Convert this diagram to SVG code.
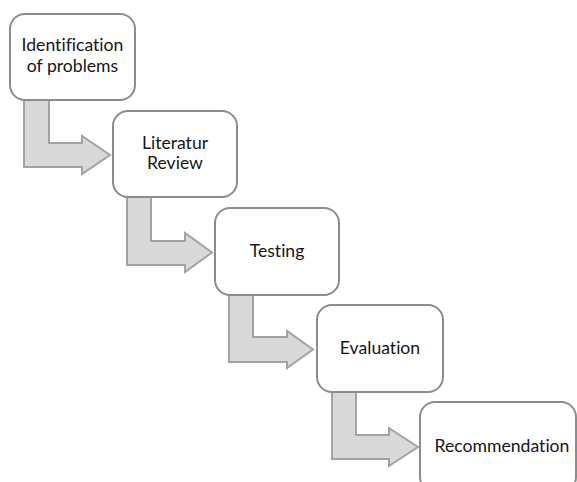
<svg xmlns="http://www.w3.org/2000/svg" width="577" height="482" viewBox="0 0 577 482">
  <style>
    .step { fill: #ffffff; stroke: #8c8c8c; stroke-width: 2; }
    .flow { fill: #d9d9d9; stroke: #a3a3a3; stroke-width: 2; stroke-linejoin: miter; }
    .label { font-family: Lato, "Liberation Sans", Arial, sans-serif; font-size: 17.6px; fill: #161616; text-anchor: middle; font-variant-ligatures: none; }
  </style>
  <rect width="577" height="482" fill="#ffffff"/>

  <!-- bent block arrows between the stages -->
  <g id="connectors">
    <polygon class="flow" points="24,96 49,96 49,143 82,143 82,136 110,155 82,174 82,167 24,167"/>
    <polygon class="flow" points="127,193 151,193 151,241 185,241 185,233 212,252.5 185,272 185,265 127,265"/>
    <polygon class="flow" points="229,290 253,290 253,337 287,337 287,331 313,349.5 287,368 287,362 229,362"/>
    <polygon class="flow" points="332,387 356,387 356,435 389,435 389,428 418,447 389,466 389,459 332,459"/>
  </g>

  <g id="identification">
    <rect class="step" x="10" y="14" width="125" height="86" rx="15"/>
    <text class="label" x="72.5" y="51">Identification</text>
    <text class="label" x="72.5" y="72">of problems</text>
  </g>

  <g id="literature">
    <rect class="step" x="113" y="111" width="124" height="86" rx="15"/>
    <text class="label" x="175" y="149">Literatur</text>
    <text class="label" x="175" y="169">Review</text>
  </g>

  <g id="testing">
    <rect class="step" x="215" y="208" width="124" height="87" rx="15"/>
    <text class="label" x="277" y="257">Testing</text>
  </g>

  <g id="evaluation">
    <rect class="step" x="317" y="305" width="126" height="87" rx="15"/>
    <text class="label" x="380" y="354">Evaluation</text>
  </g>

  <g id="recommendation">
    <rect class="step" x="420" y="402" width="156" height="90" rx="15"/>
    <text class="label" x="502" y="452">Recommendation</text>
  </g>
</svg>
